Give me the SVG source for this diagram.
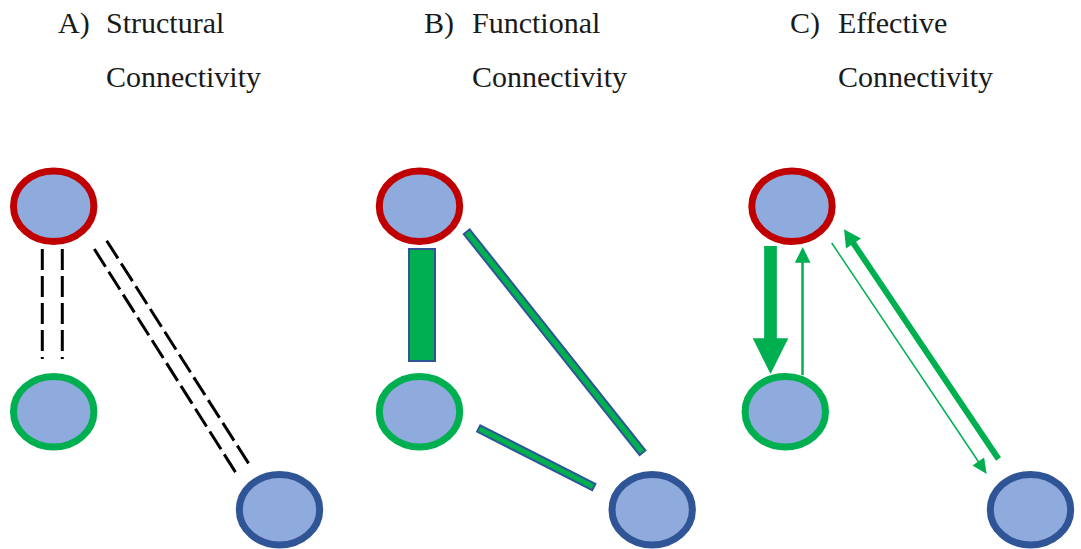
<svg xmlns="http://www.w3.org/2000/svg" width="1081" height="549" viewBox="0 0 1081 549">
<style>
.t { font-size: 30px; fill: #1a1a1a; }
.node { fill: #8FAADC; stroke-width: 7; }
.red { stroke: #C00000; }
.green { stroke: #00B050; }
.blue { stroke: #2F5597; }
.dash { stroke: #000; stroke-width: 3; stroke-dasharray: 21 6; fill: none; }
.bar { fill: #00B050; stroke: #2F5597; stroke-width: 2; }
.eline { stroke: #00B050; fill: none; }
.ehead { fill: #00B050; }
</style>
<rect width="1081" height="549" fill="#fff"/>
<g id="titles" font-family="'Liberation Serif', 'DejaVu Serif', serif">
<text class="t" x="58" y="33">A)</text><text class="t" x="106" y="33">Structural</text><text class="t" x="106" y="87">Connectivity</text>
<text class="t" x="424" y="33">B)</text><text class="t" x="472" y="33">Functional</text><text class="t" x="472" y="87">Connectivity</text>
<text class="t" x="790" y="33">C)</text><text class="t" x="838" y="33">Effective</text><text class="t" x="838" y="87">Connectivity</text>
</g>
<g id="connectors">
<line class="dash" x1="42.3" y1="249" x2="42.3" y2="359"/>
<line class="dash" x1="62.3" y1="249" x2="62.3" y2="359"/>
<line class="dash" x1="94.3" y1="249" x2="237.3" y2="475"/>
<line class="dash" x1="106.7" y1="240.7" x2="250.7" y2="466.7"/>
<rect class="bar" x="409" y="249" width="26" height="112"/>
<polygon class="bar" points="469.6,229.3 645.4,450.4 639.6,455.2 463.8,234.1"/>
<polygon class="bar" points="480.3,425.4 595.4,483.9 592.2,490.1 477.1,431.6"/>
<line class="eline" x1="770.5" y1="246" x2="770.5" y2="339" stroke-width="12.7"/>
<polygon class="ehead" points="752.7,338.3 788.3,338.3 770.5,374"/>
<line class="eline" x1="802.5" y1="375" x2="802.5" y2="262" stroke-width="2.5"/>
<polygon class="ehead" points="794.8,262.7 810.5,262.7 802.7,247"/>
<line class="eline" x1="998.5" y1="459" x2="853" y2="242.7" stroke-width="6"/>
<polygon class="ehead" points="844,229.3 861,238.4 846,248.4"/>
<line class="eline" x1="831.7" y1="243" x2="979" y2="462.5" stroke-width="1.5"/>
<polygon class="ehead" points="986.7,474 972.5,465.4 984.1,457.6"/>
</g>
<g id="A-red"><ellipse class="node red" cx="53.7" cy="206.2" rx="40.2" ry="35.3"/></g>
<g id="A-green"><ellipse class="node green" cx="53.7" cy="411.7" rx="40.2" ry="35.3"/></g>
<g id="A-blue"><ellipse class="node blue" cx="279.5" cy="509.7" rx="40.2" ry="35.3"/></g>
<g id="B-red"><ellipse class="node red" cx="419.5" cy="206.2" rx="40.2" ry="35.3"/></g>
<g id="B-green"><ellipse class="node green" cx="419.5" cy="411.7" rx="40.2" ry="35.3"/></g>
<g id="B-blue"><ellipse class="node blue" cx="652.2" cy="509.7" rx="40.2" ry="35.3"/></g>
<g id="C-red"><ellipse class="node red" cx="792" cy="206.2" rx="40.2" ry="35.3"/></g>
<g id="C-green"><ellipse class="node green" cx="785.3" cy="411.7" rx="40.2" ry="35.3"/></g>
<g id="C-blue"><ellipse class="node blue" cx="1030.5" cy="509.7" rx="40.2" ry="35.3"/></g>
</svg>
